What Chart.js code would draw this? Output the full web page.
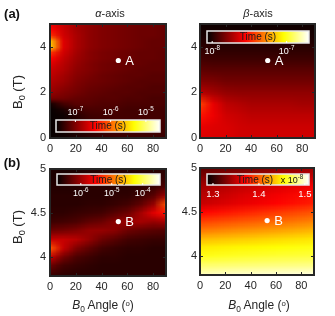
<!DOCTYPE html>
<html>
<head>
<meta charset="utf-8">
<script src="https://cdn.jsdelivr.net/npm/chart.js@4.4.0/dist/chart.umd.min.js"></script>
<style>
body { margin: 0; background: #fff; width: 335px; height: 316px; overflow: hidden; position: relative;
       font-family: "Liberation Sans", Arial, sans-serif; color: #262626; }
canvas { position: absolute; left: 0; top: 0; }
.t { position: absolute; white-space: nowrap; line-height: 1; transform: translate(-50%, -50%); z-index: 5; }
.rot { transform: translate(-50%, -50%) rotate(-90deg); }
.sub { font-size: 70%; position: relative; top: 0.3em; }
.sup { font-size: 65%; position: relative; top: -0.45em; }
</style>
</head>
<body>
<canvas id="aL" width="335" height="316"></canvas>
<canvas id="aR" width="335" height="316"></canvas>
<canvas id="bL" width="335" height="316"></canvas>
<canvas id="bR" width="335" height="316"></canvas>

<div class="t" style="left:12px;top:13px;font-size:13px;font-weight:bold;color:#111">(a)</div>
<div class="t" style="left:12px;top:162px;font-size:13px;font-weight:bold;color:#111">(b)</div>
<div class="t" style="left:110px;top:13px;font-size:11px"><i>α</i>-axis</div>
<div class="t" style="left:258px;top:13px;font-size:11px"><i>β</i>-axis</div>
<div class="t rot" style="left:18px;top:92px;font-size:13px">B<span class="sub">0</span> (T)</div>
<div class="t rot" style="left:18px;top:227px;font-size:13px">B<span class="sub">0</span> (T)</div>
<div class="t" style="left:103px;top:305px;font-size:12px"><i>B</i><span class="sub">0</span> Angle (<span class="sup">o</span>)</div>
<div class="t" style="left:259px;top:305px;font-size:12px"><i>B</i><span class="sub">0</span> Angle (<span class="sup">o</span>)</div>

<script>
// axes
const angleTicks = [0, 20, 40, 60, 80];
const fieldTicksA = [0, 2, 4];
const fieldTicksB = [4, 4.5, 5];

// grid positions of the maps
const anglesFine = [0, 10, 20, 30, 40, 50, 60, 70, 80, 90];
const anglesCoarse = [0, 30, 60, 90];
const fieldsAFine = [5.0, 4.75, 4.5, 4.25, 4.0, 3.75, 3.5, 3.25, 3.0, 2.75, 2.5,
                     2.25, 2.0, 1.75, 1.5, 1.25, 1.0, 0.75, 0.5, 0.25, 0.0];
const fieldsA = [5.0, 4.5, 4.0, 3.5, 3.0, 2.5, 2.0, 1.5, 1.0, 0.5, 0.0];
const fieldsB = [5.0, 4.9, 4.8, 4.7, 4.6, 4.5, 4.4, 4.3, 4.2, 4.1, 4.0, 3.9, 3.8];

// (a) alpha-axis, log10 of time (s)
const alphaA = [
  [-6.55, -6.70, -6.84, -6.93, -6.99, -7.02, -7.05, -7.08, -7.08, -7.11],
  [-6.43, -6.67, -6.84, -6.93, -6.99, -7.02, -7.05, -7.08, -7.08, -7.11],
  [-6.25, -6.64, -6.81, -6.93, -6.99, -7.02, -7.05, -7.08, -7.08, -7.11],
  [-5.60, -6.58, -6.81, -6.93, -6.99, -7.02, -7.05, -7.08, -7.11, -7.11],
  [-5.54, -6.58, -6.81, -6.93, -6.99, -7.02, -7.05, -7.08, -7.11, -7.11],
  [-6.22, -6.64, -6.84, -6.96, -7.02, -7.05, -7.08, -7.11, -7.11, -7.14],
  [-6.43, -6.70, -6.87, -6.96, -7.02, -7.05, -7.08, -7.11, -7.11, -7.14],
  [-6.58, -6.75, -6.90, -6.99, -7.05, -7.08, -7.11, -7.11, -7.14, -7.14],
  [-6.67, -6.78, -6.93, -6.99, -7.05, -7.08, -7.11, -7.14, -7.14, -7.14],
  [-6.72, -6.84, -6.96, -7.02, -7.08, -7.11, -7.14, -7.14, -7.17, -7.17],
  [-6.78, -6.87, -6.99, -7.05, -7.08, -7.11, -7.14, -7.17, -7.17, -7.17],
  [-6.84, -6.93, -7.02, -7.08, -7.11, -7.14, -7.17, -7.17, -7.20, -7.20],
  [-6.90, -6.99, -7.05, -7.11, -7.14, -7.17, -7.17, -7.20, -7.20, -7.20],
  [-7.02, -7.05, -7.11, -7.14, -7.17, -7.17, -7.20, -7.20, -7.23, -7.23],
  [-7.46, -7.26, -7.17, -7.17, -7.20, -7.20, -7.23, -7.23, -7.23, -7.23],
  [-7.52, -7.43, -7.28, -7.23, -7.23, -7.23, -7.26, -7.26, -7.26, -7.26],
  [-7.52, -7.49, -7.37, -7.28, -7.26, -7.26, -7.26, -7.26, -7.26, -7.26],
  [-7.52, -7.49, -7.40, -7.31, -7.28, -7.26, -7.26, -7.26, -7.26, -7.26],
  [-7.52, -7.49, -7.43, -7.34, -7.31, -7.28, -7.28, -7.28, -7.28, -7.28],
  [-7.52, -7.49, -7.43, -7.37, -7.31, -7.28, -7.28, -7.28, -7.28, -7.28],
  [-7.52, -7.49, -7.43, -7.37, -7.34, -7.31, -7.31, -7.31, -7.31, -7.31]
];
// (a) beta-axis, log10 of time (s)
const betaA = [
  [-8.04, -8.04, -8.04, -8.04, -8.04, -8.04, -8.04, -8.04, -8.04, -8.04],
  [-8.02, -8.02, -8.02, -8.02, -8.02, -8.02, -8.02, -8.02, -8.02, -8.02],
  [-7.98, -7.99, -7.99, -7.99, -7.99, -7.99, -7.99, -7.99, -7.99, -7.99],
  [-7.94, -7.95, -7.95, -7.95, -7.95, -7.95, -7.95, -7.95, -7.95, -7.95],
  [-7.88, -7.89, -7.89, -7.89, -7.89, -7.89, -7.89, -7.89, -7.89, -7.89],
  [-7.81, -7.82, -7.84, -7.84, -7.84, -7.84, -7.84, -7.84, -7.84, -7.84],
  [-7.70, -7.74, -7.77, -7.78, -7.78, -7.78, -7.78, -7.78, -7.78, -7.78],
  [-7.43, -7.60, -7.69, -7.71, -7.73, -7.73, -7.73, -7.73, -7.74, -7.74],
  [-7.52, -7.59, -7.65, -7.67, -7.69, -7.69, -7.69, -7.69, -7.69, -7.69],
  [-7.60, -7.62, -7.63, -7.65, -7.66, -7.66, -7.66, -7.66, -7.66, -7.66],
  [-7.62, -7.63, -7.63, -7.65, -7.65, -7.65, -7.65, -7.65, -7.65, -7.65]
];
// (b) alpha-axis, log10 of time (s)
const alphaB = [
  [-6.64, -6.64, -6.64, -6.60, -6.60, -6.60, -6.60, -6.57, -6.57, -6.57],
  [-6.64, -6.64, -6.60, -6.60, -6.60, -6.57, -6.57, -6.57, -6.57, -6.50],
  [-6.60, -6.60, -6.60, -6.57, -6.57, -6.57, -6.57, -6.54, -6.50, -6.37],
  [-6.57, -6.57, -6.57, -6.57, -6.57, -6.54, -6.54, -6.47, -6.34, -5.97],
  [-6.57, -6.57, -6.57, -6.54, -6.54, -6.50, -6.44, -6.30, -6.04, -5.11],
  [-6.54, -6.54, -6.50, -6.47, -6.44, -6.34, -6.24, -5.97, -5.67, -5.44],
  [-6.47, -6.44, -6.40, -6.30, -6.24, -6.10, -6.00, -5.97, -6.04, -5.97],
  [-6.24, -6.20, -6.14, -6.04, -6.04, -6.10, -6.24, -6.30, -6.34, -6.37],
  [-5.80, -5.80, -5.87, -6.04, -6.24, -6.34, -6.44, -6.47, -6.50, -6.50],
  [-5.11, -5.80, -6.14, -6.30, -6.44, -6.50, -6.54, -6.54, -6.57, -6.57],
  [-5.80, -6.20, -6.40, -6.47, -6.54, -6.54, -6.57, -6.57, -6.57, -6.57],
  [-6.24, -6.44, -6.50, -6.54, -6.57, -6.57, -6.57, -6.57, -6.57, -6.57],
  [-6.47, -6.54, -6.57, -6.57, -6.57, -6.57, -6.57, -6.57, -6.57, -6.57]
];
// (b) beta-axis, time in units of 1e-8 s
const betaB = [
  [1.318, 1.325, 1.331, 1.340],
  [1.329, 1.336, 1.345, 1.351],
  [1.340, 1.349, 1.358, 1.367],
  [1.346, 1.357, 1.366, 1.375],
  [1.352, 1.362, 1.371, 1.380],
  [1.370, 1.379, 1.388, 1.397],
  [1.390, 1.397, 1.404, 1.412],
  [1.408, 1.415, 1.421, 1.428],
  [1.430, 1.435, 1.440, 1.445],
  [1.447, 1.451, 1.454, 1.458],
  [1.458, 1.462, 1.465, 1.467],
  [1.476, 1.478, 1.480, 1.482],
  [1.493, 1.496, 1.498, 1.500]
];

// colour limits and colorbar ticks
const limAlphaA = [-7.55, -4.60];
const limBetaA = [-8.07, -6.70];
const limAlphaB = [-6.77, -3.44];
const limBetaB = [1.287, 1.509];
const cbTicksAlphaA = [-7, -6, -5];
const cbTicksBetaA = [-8, -7];
const cbTicksAlphaB = [-6, -5, -4];
const cbTicksBetaB = [1.3, 1.4, 1.5];

// marked operating points
const pointA = [{ x: 53, y: 3.4 }];
const pointB = [{ x: 53, y: 4.4 }];

const FONT = '"Liberation Sans", Arial, sans-serif';
const INK = '#262626';

// matlab "hot" colormap
function hot(f) {
  f = Math.max(0, Math.min(1, f));
  const r = Math.min(1, f / 0.375);
  const g = Math.max(0, Math.min(1, (f - 0.375) / 0.375));
  const b = Math.max(0, Math.min(1, (f - 0.75) / 0.25));
  return [r, g, b].map(c => Math.round(c * 255));
}

// draws "10" with a raised exponent, centred at cx
function powLabel(ctx, base, exp, cx, cy, size) {
  ctx.font = size + 'px ' + FONT;
  const w1 = ctx.measureText(base).width;
  ctx.font = (size * 0.7) + 'px ' + FONT;
  const w2 = ctx.measureText(exp).width;
  let x = cx - (w1 + w2) / 2;
  ctx.textAlign = 'left';
  ctx.textBaseline = 'middle';
  ctx.font = size + 'px ' + FONT;
  ctx.fillText(base, x, cy);
  ctx.font = (size * 0.7) + 'px ' + FONT;
  ctx.fillText(exp, x + w1, cy - size * 0.4);
}

function makePlugin(p) {
  return {
    id: 'heatmap',
    beforeDatasetsDraw(chart) {
      const { ctx, chartArea: a, scales: { x, y } } = chart;
      const nx = p.xs.length, ny = p.ys.length;
      const off = document.createElement('canvas');
      off.width = nx; off.height = ny;
      const octx = off.getContext('2d');
      const img = octx.createImageData(nx, ny);
      for (let r = 0; r < ny; r++) {
        for (let c = 0; c < nx; c++) {
          const f = (p.z[r][c] - p.lim[0]) / (p.lim[1] - p.lim[0]);
          const col = hot(f);
          const i = (r * nx + c) * 4;
          img.data[i] = col[0]; img.data[i + 1] = col[1]; img.data[i + 2] = col[2]; img.data[i + 3] = 255;
        }
      }
      octx.putImageData(img, 0, 0);
      const dx = p.xs[1] - p.xs[0];
      const dy = p.ys[0] - p.ys[1];
      const x0 = x.getPixelForValue(p.xs[0] - dx / 2);
      const x1 = x.getPixelForValue(p.xs[nx - 1] + dx / 2);
      const y0 = y.getPixelForValue(p.ys[0] + dy / 2);
      const y1 = y.getPixelForValue(p.ys[ny - 1] - dy / 2);
      ctx.save();
      ctx.beginPath();
      ctx.rect(a.left, a.top, a.width, a.height);
      ctx.clip();
      ctx.imageSmoothingEnabled = true;
      ctx.imageSmoothingQuality = 'low';
      ctx.drawImage(off, x0, y0, x1 - x0, y1 - y0);
      ctx.restore();
    },
    afterDatasetsDraw(chart) {
      const { ctx, chartArea: a, scales: { x, y } } = chart;
      ctx.save();

      // point label
      ctx.fillStyle = '#fff';
      ctx.font = '13px ' + FONT;
      ctx.textAlign = 'left';
      ctx.textBaseline = 'middle';
      p.pts.forEach(pt => {
        ctx.fillText(p.name, x.getPixelForValue(pt.x) + 7, y.getPixelForValue(pt.y) + 0.5);
      });

      // colorbar
      const cb = p.cb;
      const bx = a.left + cb.dl;
      const bw = a.right - cb.dr - bx;
      const by = cb.dt != null ? a.top + cb.dt : a.bottom - cb.db - cb.h;
      const bh = cb.h;
      const g = ctx.createLinearGradient(bx, 0, bx + bw, 0);
      g.addColorStop(0, '#000');
      g.addColorStop(0.375, '#f00');
      g.addColorStop(0.75, '#ff0');
      g.addColorStop(1, '#fff');
      ctx.fillStyle = g;
      ctx.fillRect(bx, by, bw, bh);
      ctx.strokeStyle = '#e8e8e8';
      ctx.lineWidth = 1.5;
      ctx.strokeRect(bx, by, bw, bh);

      ctx.fillStyle = '#1a1a1a';
      ctx.font = '10px ' + FONT;
      ctx.textAlign = 'center';
      ctx.textBaseline = 'middle';
      ctx.fillText('Time (s)', bx + bw / 2 + (cb.titleShift || 0), by + bh / 2 + 0.5);
      if (cb.mult) {
        ctx.fillStyle = '#111';
        powLabel(ctx, 'x 10', cb.mult, bx + bw - 17, by + bh / 2 + 1, 9);
      }

      cb.ticks.forEach(t => {
        const px = bx + (t - p.lim[0]) / (p.lim[1] - p.lim[0]) * bw;
        ctx.strokeStyle = '#fff';
        ctx.lineWidth = 1;
        ctx.beginPath();
        if (cb.above) { ctx.moveTo(px, by); ctx.lineTo(px, by + 2); }
        else { ctx.moveTo(px, by + bh); ctx.lineTo(px, by + bh - 2); }
        ctx.stroke();
        ctx.fillStyle = '#fff';
        const ly = cb.above ? by - 7 : by + bh + 9;
        if (cb.log) powLabel(ctx, '10', String(t), px, ly, 9);
        else {
          ctx.font = '9.5px ' + FONT;
          ctx.textAlign = 'center';
          ctx.textBaseline = 'middle';
          ctx.fillText(t.toFixed(1), px, ly);
        }
      });

      // inward tick marks on all four sides
      ctx.strokeStyle = INK;
      ctx.lineWidth = 1;
      ctx.beginPath();
      x.ticks.forEach(t => {
        const px = Math.round(x.getPixelForValue(t.value)) + 0.5;
        ctx.moveTo(px, a.bottom); ctx.lineTo(px, a.bottom - 3);
        ctx.moveTo(px, a.top); ctx.lineTo(px, a.top + 3);
      });
      y.ticks.forEach(t => {
        const py = Math.round(y.getPixelForValue(t.value)) + 0.5;
        ctx.moveTo(a.left, py); ctx.lineTo(a.left + 3, py);
        ctx.moveTo(a.right, py); ctx.lineTo(a.right - 3, py);
      });
      ctx.stroke();

      // axes box
      ctx.strokeStyle = INK;
      ctx.lineWidth = 2;
      ctx.strokeRect(a.left, a.top, a.width, a.height);
      ctx.restore();
    }
  };
}

function panel(id, p) {
  return new Chart(document.getElementById(id), {
    type: 'scatter',
    data: {
      datasets: [{
        data: p.pts,
        pointRadius: 2.6,
        pointBorderWidth: 0,
        pointBackgroundColor: '#fff',
        pointBorderColor: '#fff'
      }]
    },
    options: {
      responsive: false,
      animation: false,
      events: [],
      layout: { padding: p.pad },
      plugins: { legend: { display: false }, tooltip: { enabled: false } },
      scales: {
        x: {
          type: 'linear', min: 0, max: 90,
          afterBuildTicks: s => { s.ticks = angleTicks.map(v => ({ value: v })); },
          afterFit: s => { s.height = 20; },
          grid: { display: false, drawTicks: false },
          border: { display: false },
          ticks: { color: INK, font: { family: FONT, size: 11 }, padding: 4, maxRotation: 0, autoSkip: false }
        },
        y: {
          type: 'linear', min: p.yMin, max: p.yMax,
          afterBuildTicks: s => { s.ticks = p.yTicks.map(v => ({ value: v })); },
          afterFit: s => { s.width = 30; },
          grid: { display: false, drawTicks: false },
          border: { display: false },
          ticks: {
            color: INK, font: { family: FONT, size: 11 }, padding: p.yPad, autoSkip: false,
            callback: v => String(v)
          }
        }
      }
    },
    plugins: [makePlugin(p)]
  });
}

panel('aL', {
  xs: anglesFine, ys: fieldsAFine, z: alphaA, lim: limAlphaA, pts: pointA, name: 'A',
  yMin: 0, yMax: 5, yTicks: fieldTicksA, yPad: 4,
  pad: { left: 20, right: 169, top: 24, bottom: 158 },
  cb: { dl: 6, dr: 6, db: 6, h: 12, ticks: cbTicksAlphaA, above: true, log: true }
});
panel('aR', {
  xs: anglesFine, ys: fieldsA, z: betaA, lim: limBetaA, pts: pointA, name: 'A',
  yMin: 0, yMax: 5, yTicks: fieldTicksA, yPad: 3,
  pad: { left: 170, right: 20, top: 24, bottom: 158 },
  cb: { dl: 7, dr: 6, dt: 7, h: 12, ticks: cbTicksBetaA, above: false, log: true }
});
panel('bL', {
  xs: anglesFine, ys: fieldsB, z: alphaB, lim: limAlphaB, pts: pointB, name: 'B',
  yMin: 3.78, yMax: 5, yTicks: fieldTicksB, yPad: 4,
  pad: { left: 20, right: 169, top: 169, bottom: 20 },
  cb: { dl: 7, dr: 6, dt: 5, h: 11, ticks: cbTicksAlphaB, above: false, log: true }
});
panel('bR', {
  xs: anglesCoarse, ys: fieldsB, z: betaB, lim: limBetaB, pts: pointB, name: 'B',
  yMin: 3.78, yMax: 5, yTicks: fieldTicksB, yPad: 3,
  pad: { left: 170, right: 21, top: 168, bottom: 21 },
  cb: { dl: 7, dr: 5, dt: 6, h: 11, ticks: cbTicksBetaB, above: false, log: false, mult: '-8', titleShift: -3 }
});
</script>
</body>
</html>
